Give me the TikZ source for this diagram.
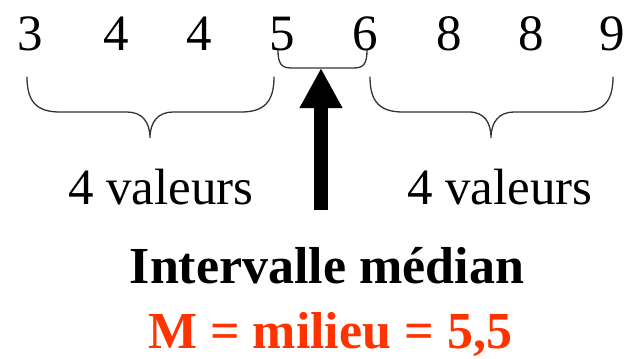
\documentclass[tikz,border=0pt]{standalone}
\usepackage{fontspec}
\setmainfont{Liberation Serif}
\usetikzlibrary{arrows.meta}
\definecolor{medred}{HTML}{FF3300}
\tikzset{
  num/.style={anchor=base, inner sep=0pt, font=\fontsize{51}{55}\selectfont},
  lbl/.style={anchor=base, inner sep=0pt, font=\fontsize{51}{55}\selectfont},
  title/.style={anchor=base, inner sep=0pt, font=\fontsize{52}{56}\selectfont\bfseries},
  bracestyle/.style={draw=black!80, line width=1.3pt, line cap=round},
  bigarrow/.style={line width=14pt, -{Triangle[width=40pt,length=40pt]}}
}
\begin{document}
\begin{tikzpicture}[x=1pt,y=-1pt]
\useasboundingbox (0,0) rectangle (633,359);
\node[num] (n1) at (30,50) {3};
\node[num] (n2) at (116,50) {4};
\node[num] (n3) at (199,50) {4};
\node[num] (n4) at (282,50) {5};
\node[num] (n5) at (365,50) {6};
\node[num] (n6) at (449,50) {8};
\node[num] (n7) at (531,50) {8};
\node[num] (n8) at (612,50) {9};
% braces
\draw[bracestyle] (27,77) .. controls (27,102) and (37,112) .. (60,112) -- (127,112)
  .. controls (142,112) and (150,122) .. (150,138)
  .. controls (150,122) and (158,112) .. (173,112) -- (241,112)
  .. controls (264,112) and (274,102) .. (274,77);
\draw[bracestyle] (278,50) .. controls (278,63) and (281,68) .. (291,68) -- (354,68)
  .. controls (364,68) and (367,63) .. (367,50);
\draw[bracestyle] (370,77) .. controls (370,102) and (380,112) .. (403,112) -- (469,112)
  .. controls (484,112) and (491,122) .. (491,138)
  .. controls (491,122) and (499,112) .. (514,112) -- (580,112)
  .. controls (603,112) and (613,102) .. (613,77);
\node[lbl] (l1) at (161,204) {4 valeurs};
\node[lbl] (l2) at (500,204) {4 valeurs};
\coordinate (tip) at (321,68);
\coordinate (base) at (321,210);
\draw[bigarrow] (base) -- (tip);
\node[title] (t1) at (327,283) {Intervalle médian};
\node[title, text=medred] (t2) at (330,348) {M = milieu = 5,5};
\end{tikzpicture}
\end{document}
